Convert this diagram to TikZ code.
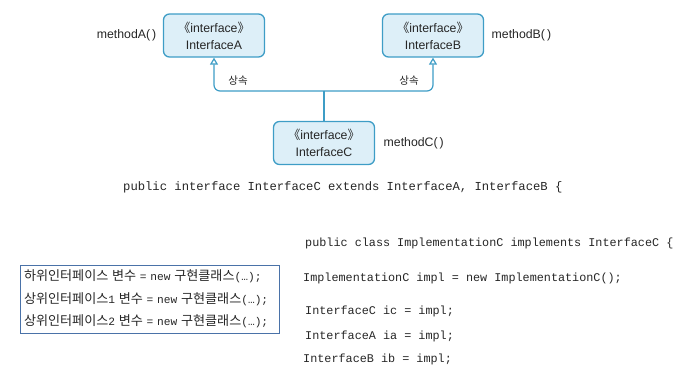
\documentclass[tikz,border=0pt]{standalone}
\usepackage{fontspec}
\setmainfont{Liberation Sans}
\setmonofont{Liberation Mono}
\newfontfamily\kr{Noto Sans CJK KR}
\newfontfamily\krm{Noto Sans CJK KR}[Scale=1.17]
\usetikzlibrary{arrows.meta,positioning}
\definecolor{ifblue}{HTML}{3E9DC6}
\definecolor{iffill}{HTML}{DDEFF8}
\definecolor{frame}{HTML}{4A72A8}
\definecolor{ink}{HTML}{262626}
\newcommand{\stereo}{{\kr 《}interface{\kr 》}}

\begin{document}
\begin{tikzpicture}[x=1pt,y=-1pt,text=ink,font=\fontsize{12.3}{17}\selectfont,node distance=5pt]
\tikzset{iface/.style={draw=ifblue,line width=1.3pt,rounded corners=6pt,fill=iffill,minimum width=101pt,minimum height=43pt,align=center,inner sep=2pt}, inh/.style={-{Triangle[open,length=7pt,width=8pt,fill=white]},line width=1.2pt,draw=ifblue,rounded corners=6pt}, code/.style={anchor=west,inner sep=0pt,font=\ttfamily\fontsize{11.8}{14}\selectfont}, lbl/.style={font=\kr\fontsize{10.5}{12}\selectfont}}
\useasboundingbox (0,0) rectangle (698,373);
\node[iface] (A) at (214,35.5) {\stereo\\InterfaceA};
\node[iface] (B) at (433,35.5) {\stereo\\InterfaceB};
\node[iface] (C) at (324,143) {\stereo\\InterfaceC};
\node[left=3pt of A] (mA) {methodA(\,)};
\node[right=4pt of B] (mB) {methodB(\,)};
\node[right=5pt of C] (mC) {methodC(\,)};
\coordinate (j) at (C.north |- 0,91);
\draw[line width=1.2pt,color=ifblue] (C.north) -- (j);
\draw[inh] (j) -| (A.south);
\draw[inh] (j) -| (B.south);
\node[lbl] (s1) at (238,81) {상속};
\node[lbl] (s2) at (409,81) {상속};
\node[code,font=\ttfamily\fontsize{12.2}{14}\selectfont] (ext) at (123,187) {public interface InterfaceC extends InterfaceA, InterfaceB \{};
\node[code] (cls) at (305,243) {public class ImplementationC implements InterfaceC \{};
\node[code] (impl) at (303,278) {ImplementationC impl = new ImplementationC();};
\node[code] (ic) at (305,311) {InterfaceC ic = impl;};
\node[code] (ia) at (305,336) {InterfaceA ia = impl;};
\node[code] (ib) at (303,359) {InterfaceB ib = impl;};
\node[draw=frame,line width=1pt,text width=251pt,inner xsep=4pt,minimum height=68pt,align=left,font=\ttfamily\fontsize{11.2}{22.5}\selectfont] (note) at (149.5,299) {{\krm 하위인터페이스} {\krm 변수} = new {\krm 구현클래스}(…);\\{\krm 상위인터페이스}1 {\krm 변수} = new {\krm 구현클래스}(…);\\{\krm 상위인터페이스}2 {\krm 변수} = new {\krm 구현클래스}(…);};
\end{tikzpicture}
\end{document}
